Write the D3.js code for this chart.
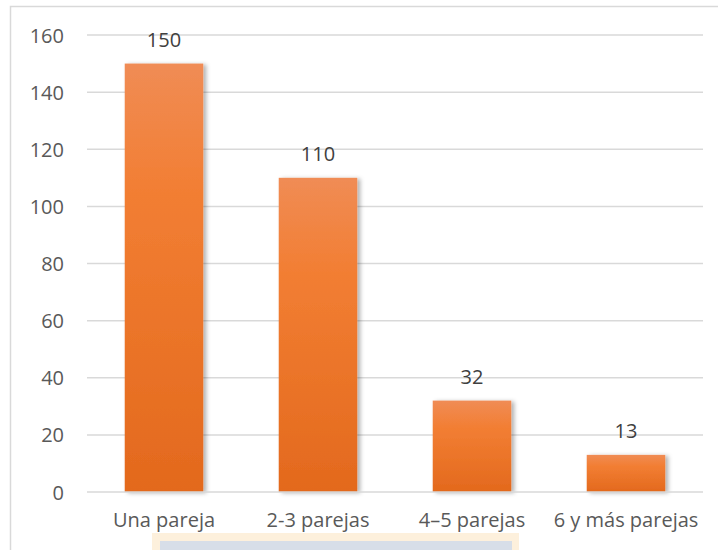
<!DOCTYPE html>
<html lang="es">
<head>
<meta charset="utf-8">
<style>
  body { margin: 0; background: white; }
  svg text { font-family: "Open Sans", Lato, sans-serif; }
  .tick text { fill: #595959; font-size: 20px; }
  .grid line { stroke: #d9d9d9; stroke-width: 1.5px; }
  .label { fill: #404040; font-size: 20px; }
</style>
</head>
<body>
<svg width="718" height="550"></svg>
<script src="https://d3js.org/d3.v7.min.js"></script>
<script>
// data
const categories = ["Una pareja", "2-3 parejas", "4\u20135 parejas", "6 y m\u00e1s parejas"];
const values = [150, 110, 32, 13];
const yTicks = [0, 20, 40, 60, 80, 100, 120, 140, 160];

const svg = d3.select("svg");
const plot = {left: 87, right: 703, top: 35, bottom: 492};

const x = d3.scaleBand().domain(categories).range([plot.left, plot.right]).paddingInner(0.49).paddingOuter(0.245);
const y = d3.scaleLinear().domain([0, 160]).range([plot.bottom, plot.top]);

// chart frame
svg.append("rect")
  .attr("x", 10.5).attr("y", 6.5)
  .attr("width", 720).attr("height", 560)
  .attr("fill", "white")
  .attr("stroke", "#d9d9d9").attr("stroke-width", 1.5);

const defs = svg.append("defs");
const grad = defs.append("linearGradient")
  .attr("id", "barFill").attr("x1", 0).attr("y1", 0).attr("x2", 0).attr("y2", 1);
grad.append("stop").attr("offset", "0%").attr("stop-color", "#f08c55");
grad.append("stop").attr("offset", "30%").attr("stop-color", "#f27e33");
grad.append("stop").attr("offset", "100%").attr("stop-color", "#e3691d");

const shadow = defs.append("filter").attr("id", "shadow")
  .attr("x", "-20%").attr("y", "-10%").attr("width", "150%").attr("height", "130%");
shadow.append("feDropShadow")
  .attr("dx", 3).attr("dy", 1).attr("stdDeviation", 2)
  .attr("flood-color", "#000").attr("flood-opacity", 0.3);

// text box peeking in below the chart
svg.append("rect")
  .attr("x", 152).attr("y", 533).attr("width", 367).attr("height", 30)
  .attr("fill", "#fdf0dc");
svg.append("rect")
  .attr("x", 160).attr("y", 541).attr("width", 352).attr("height", 20)
  .attr("fill", "#d7dee8");

// gridlines
svg.append("g").attr("class", "grid")
  .selectAll("line").data(yTicks.filter(d => d > 0)).join("line")
  .attr("x1", plot.left).attr("x2", plot.right)
  .attr("y1", d => y(d)).attr("y2", d => y(d));

// y axis labels
const yAxis = svg.append("g")
  .attr("transform", `translate(${plot.left - 23},0)`)
  .call(d3.axisLeft(y).tickValues(yTicks).tickSize(0).tickPadding(0));
yAxis.select(".domain").remove();
yAxis.selectAll(".tick text").attr("dy", "0.35em");

// bars
svg.append("g").selectAll("rect").data(values).join("rect")
  .attr("x", (d, i) => x(categories[i]))
  .attr("y", d => y(d))
  .attr("width", x.bandwidth())
  .attr("height", d => y(0) - y(d))
  .attr("fill", "url(#barFill)")
  .attr("filter", "url(#shadow)");

// baseline
svg.append("line")
  .attr("x1", plot.left).attr("x2", plot.right)
  .attr("y1", y(0)).attr("y2", y(0))
  .attr("stroke", "#d9d9d9").attr("stroke-width", 1.5);

// value labels
svg.append("g").selectAll("text").data(values).join("text")
  .attr("class", "label")
  .attr("x", (d, i) => x(categories[i]) + x.bandwidth() / 2)
  .attr("y", d => y(d) - 17)
  .attr("text-anchor", "middle")
  .text(d => d);

// x axis labels
const xAxis = svg.append("g")
  .attr("transform", `translate(0,${plot.bottom + 35})`)
  .call(d3.axisBottom(x).tickSize(0).tickPadding(0));
xAxis.select(".domain").remove();
xAxis.selectAll(".tick text").attr("dy", 0);
</script>
</body>
</html>
